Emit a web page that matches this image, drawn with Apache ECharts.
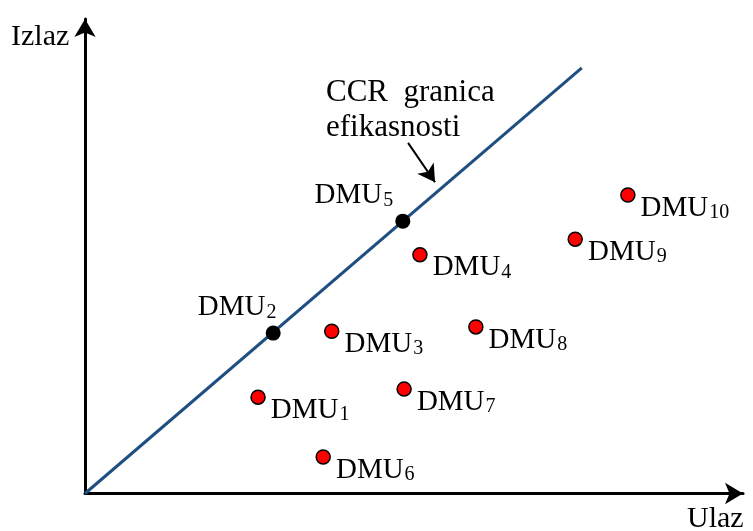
<!DOCTYPE html>
<html>
<head>
<meta charset="utf-8">
<script src="https://cdn.jsdelivr.net/npm/echarts@6/dist/echarts.min.js"></script>
<style>
	html,body{margin:0;padding:0;background:#fff}
	#main{width:753px;height:531px;}
</style>
</head>
<body>
<div id="main"></div>
<script type="text/javascript">
// DMU jedinice (ulaz, izlaz)
var names   = ['1','2','3','4','5','6','7','8','9','10'];
var ulaz    = [26.3, 28.6, 37.5, 50.9, 48.3, 36.2, 48.5, 59.4, 74.5, 82.5];
var izlaz   = [20.3, 33.8, 34.2, 50.3, 57.4,  7.7, 22.0, 35.1, 53.6, 62.9];
var efikasni = ['2','5'];   // leže na CCR granici
// CCR granica kroz ishodište
var granicaX = [0, 75.5];
var granicaY = [0, 89.7];
// strelica oznake
var strelicaOd = [49.1, 73.9];
var strelicaDo = [53.2, 65.6];

var FONT = 'Liberation Serif';
var rich = {
	a: {fontFamily: FONT, fontSize: 29, lineHeight: 30, color: '#000'},
	s: {fontFamily: FONT, fontSize: 20, lineHeight: 8, verticalAlign: 'bottom', padding: [0, 0, 0, 1], color: '#000'}
};

var crveni = [], crni = [];
names.forEach(function(n, i){
	var p = {name: n, value: [ulaz[i], izlaz[i]]};
	if (efikasni.indexOf(n) >= 0) crni.push(p); else crveni.push(p);
});

var chart = echarts.init(document.getElementById('main'));
chart.setOption({
	animation: false,
	grid: {left: 85, right: 10, top: 19, bottom: 37.5},
	xAxis: {
		type: 'value', min: 0, max: 100,
		axisLine: {lineStyle: {color: '#000', width: 3}, symbol: ['none', 'arrow'], symbolSize: [16, 18]},
		axisTick: {show: false}, axisLabel: {show: false}, splitLine: {show: false}
	},
	yAxis: {
		type: 'value', min: 0, max: 100,
		axisLine: {lineStyle: {color: '#000', width: 3}, symbol: ['none', 'arrow'], symbolSize: [16, 18]},
		axisTick: {show: false}, axisLabel: {show: false}, splitLine: {show: false}
	},
	graphic: [
		{type: 'text', left: 11, top: 22, style: {text: 'Izlaz', font: '30px ' + FONT, fill: '#000'}},
		{type: 'text', left: 687, top: 504, style: {text: 'Ulaz', font: '30px ' + FONT, fill: '#000'}},
		{type: 'text', left: 326, top: 75, style: {text: 'CCR  granica\nefikasnosti', font: '31px ' + FONT, lineHeight: 35, fill: '#000'}}
	],
	series: [
		{
			type: 'line',
			data: granicaX.map(function(x, i){ return [x, granicaY[i]]; }),
			symbol: 'none',
			lineStyle: {color: '#1f4e80', width: 3},
			z: 2,
			markLine: {
				silent: true,
				symbol: ['none', 'arrow'],
				symbolSize: [15, 17],
				label: {show: false},
				lineStyle: {color: '#000', width: 2, type: 'solid'},
				data: [[{coord: strelicaOd}, {coord: strelicaDo}]]
			}
		},
		{
			type: 'scatter',
			data: crveni,
			symbolSize: 14,
			itemStyle: {color: '#ff0000', borderColor: '#000', borderWidth: 1.5, opacity: 1},
			z: 3,
			label: {
				show: true, position: 'right', distance: 5, offset: [0, 13],
				formatter: function(p){ return '{a|DMU}{s|' + p.name + '}'; },
				rich: rich
			}
		},
		{
			type: 'scatter',
			data: crni,
			symbolSize: 15,
			itemStyle: {color: '#000', opacity: 1},
			z: 3,
			label: {
				show: true, position: 'top', distance: 3,
				formatter: function(p){ return '{a|DMU}{s|' + p.name + '}'; },
				rich: rich
			},
			labelLayout: function(p){
				return {dx: p.dataIndex === 0 ? -36 : -49};
			}
		}
	]
});
</script>
</body>
</html>
